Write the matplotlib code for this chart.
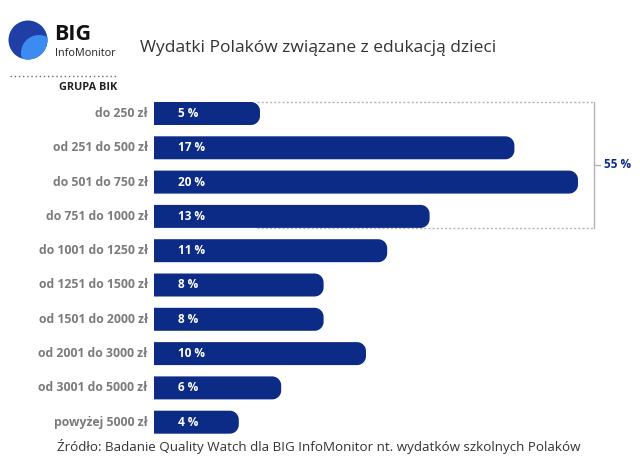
import matplotlib
matplotlib.use("Agg")
import matplotlib.pyplot as plt
from matplotlib.patches import PathPatch, Circle
from matplotlib.path import Path
import numpy as np

categories = ["do 250 zł", "od 251 do 500 zł", "do 501 do 750 zł", "do 751 do 1000 zł",
              "do 1001 do 1250 zł", "od 1251 do 1500 zł", "od 1501 do 2000 zł",
              "od 2001 do 3000 zł", "od 3001 do 5000 zł", "powyżej 5000 zł"]
values = [5, 17, 20, 13, 11, 8, 8, 10, 6, 4]
bracket_label = "55 %"
title = "Wydatki Polaków związane z edukacją dzieci"
source = "Źródło: Badanie Quality Watch dla BIG InfoMonitor nt. wydatków szkolnych Polaków"

plt.rcParams['font.family'] = ['Open Sans', 'DejaVu Sans']

W, H = 640, 475
fig = plt.figure(figsize=(W / 100, H / 100), dpi=100)
fig.patch.set_facecolor("white")

BAR = "#0b2b86"
GRAY = "#7b7b7b"

# axes geometry in pixels
px_per_unit = 21.2
x0_px = 154
xmax = 22
row = 34.3
top_c = 113.5
n = len(categories)
ax_top = top_c - row / 2
ax_bot = top_c + (n - 1) * row + row / 2
ax = fig.add_axes([x0_px / W, 1 - ax_bot / H, xmax * px_per_unit / W, (ax_bot - ax_top) / H])
ax.set_xlim(0, xmax)
ax.set_ylim(n - 0.5, -0.5)
ax.axis("off")

bh = 0.67
r_px = 9
rx = r_px / px_per_unit
ry = r_px / row


def right_rounded(x_end, yc, h):
    y0, y1 = yc - h / 2, yc + h / 2
    verts = [(0, y0), (x_end - rx, y0)]
    t = np.linspace(-np.pi / 2, 0, 12)
    verts += [(x_end - rx + rx * np.cos(a), y0 + ry + ry * np.sin(a)) for a in t]
    t = np.linspace(0, np.pi / 2, 12)
    verts += [(x_end - rx + rx * np.cos(a), y1 - ry + ry * np.sin(a)) for a in t]
    verts += [(0, y1), (0, y0)]
    codes = [Path.MOVETO] + [Path.LINETO] * (len(verts) - 2) + [Path.CLOSEPOLY]
    return Path(verts, codes)


ys = np.arange(n)
for y, v in zip(ys, values):
    ax.add_patch(PathPatch(right_rounded(v, y, bh), fc=BAR, ec="none", zorder=3))
    ax.text(1.15, y, f"{v} %", color="white", fontsize=8.5, fontweight="bold",
            va="center", ha="left", zorder=4)
    ax.text(-0.3, y, categories[y], color=GRAY, fontsize=8.8, fontweight="bold",
            va="center", ha="right", clip_on=False)

# bracket for first four categories
bx = 20.75
ytop = 0 - bh / 2
ybot = 3 + bh / 2
ax.plot([4.85, bx], [ytop, ytop], ls=(0, (1.5, 1.5)), color="#b5b5b5", lw=1, zorder=1)
ax.plot([4.85, bx], [ybot, ybot], ls=(0, (1.5, 1.5)), color="#b5b5b5", lw=1, zorder=1)
ax.plot([bx, bx], [ytop, ybot], color="#b5b5b5", lw=1, zorder=1, clip_on=False)
ax.plot([bx, bx + 0.3], [1.5, 1.5], color="#b5b5b5", lw=1, zorder=1, clip_on=False)
ax.text(bx + 0.5, 1.5, bracket_label, color=BAR, fontsize=8.5, fontweight="bold",
        va="center", ha="left", clip_on=False)

# overlay axes in pixel coords for header/footer
ov = fig.add_axes([0, 0, 1, 1])
ov.set_xlim(0, W)
ov.set_ylim(H, 0)
ov.axis("off")
c1 = Circle((28, 40), 19.5, fc="#1f3fa6", ec="none")
ov.add_patch(c1)
c2 = Circle((39, 53), 18, fc="#3b8bf0", ec="none")
ov.add_patch(c2)
c2.set_clip_path(c1)
ov.text(54, 35, "BIG", fontsize=15.5, fontweight="bold", color="#111111", va="center", ha="left")
ov.text(55, 53, "InfoMonitor", fontsize=7.8, color="#222222", va="center", ha="left")
ov.plot([10, 117], [76, 76], ls=(0, (1, 2)), color="#666666", lw=1)
ov.text(117, 88, "GRUPA BIK", fontsize=7.8, fontweight="bold", color="#222222", va="center", ha="right")
ov.text(140, 48, title, fontsize=12.5, color="#333333", va="center", ha="left")
ov.text(319, 447, source, fontsize=9.6, color="#333333", va="center", ha="center")

fig.savefig("out.png", dpi=100, facecolor="white")
